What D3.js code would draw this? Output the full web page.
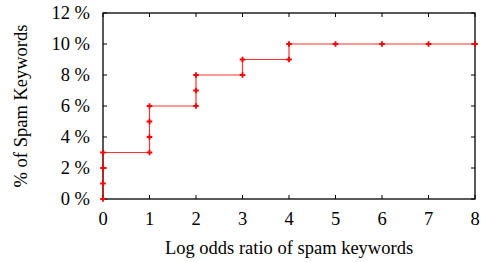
<!DOCTYPE html>
<html><head><meta charset="utf-8">
<script src="https://cdn.jsdelivr.net/npm/d3@7"></script>
<style>
body{margin:0;background:#fff;}
</style></head>
<body><svg id="c" width="481" height="262"></svg>
<script>
const xVals = [0,0,0,0,1,1,1,1,2,2,2,3,3,4,4,5,6,7,8];
const yVals = [0,1,2,3,3,4,5,6,6,7,8,8,9,9,10,10,10,10,10];
const xTicks = [0,1,2,3,4,5,6,7,8];
const yTicks = [0,2,4,6,8,10,12];
const xLabel = "Log odds ratio of spam keywords";
const yLabel = "% of Spam Keywords";

const svg = d3.select("#c");
const L=103, R=475, T=13, B=199;
const x = d3.scaleLinear().domain([0,8]).range([L,R]);
const y = d3.scaleLinear().domain([0,12]).range([B,T]);
const fs = 18.5;
const txt = (sel)=>sel.each(function(){
  this.style.setProperty("font-family","'Liberation Serif', Tinos, 'Times New Roman', serif","important");
  this.style.setProperty("font-size",fs+"px","important");
}).attr("fill","#000");

svg.append("rect").attr("x",L).attr("y",T).attr("width",R-L).attr("height",B-T)
  .attr("fill","none").attr("stroke","#000").attr("stroke-width",1.3);

const tl=4;
const g = svg.append("g");
xTicks.forEach(t=>{
  const px=x(t);
  g.append("line").attr("x1",px).attr("x2",px).attr("y1",B).attr("y2",B-tl).attr("stroke","#000");
  g.append("line").attr("x1",px).attr("x2",px).attr("y1",T).attr("y2",T+tl).attr("stroke","#000");
  g.append("text").attr("x",px).attr("y",B+26).attr("text-anchor","middle").call(txt).text(t);
});
yTicks.forEach(t=>{
  const py=y(t);
  g.append("line").attr("x1",L).attr("x2",L+tl).attr("y1",py).attr("y2",py).attr("stroke","#000");
  g.append("line").attr("x1",R).attr("x2",R-tl).attr("y1",py).attr("y2",py).attr("stroke","#000");
  g.append("text").attr("x",L-13).attr("y",py+6).attr("text-anchor","end").call(txt).text(t+" %");
});

svg.append("text").attr("x",(L+R)/2).attr("y",254).attr("text-anchor","middle").call(txt).text(xLabel);
svg.append("text").attr("transform",`translate(27,${(T+B)/2}) rotate(-90)`).attr("text-anchor","middle").call(txt).text(yLabel);

const pts = xVals.map((v,i)=>[v,yVals[i]]);
svg.append("path").datum(pts)
  .attr("d", d3.line().x(d=>x(d[0])).y(d=>y(d[1])))
  .attr("fill","none").attr("stroke","#ff0000").attr("stroke-width",1.2).attr("stroke-opacity",0.8);

const m=2.8;
svg.append("g").selectAll("path.m").data(pts).join("path")
  .attr("d", d=>{const px=x(d[0]),py=y(d[1]);return `M${px-m},${py}H${px+m}M${px},${py-m}V${py+m}`;})
  .attr("stroke","#ff0000").attr("stroke-width",1.8).attr("fill","none");
</script></body></html>
